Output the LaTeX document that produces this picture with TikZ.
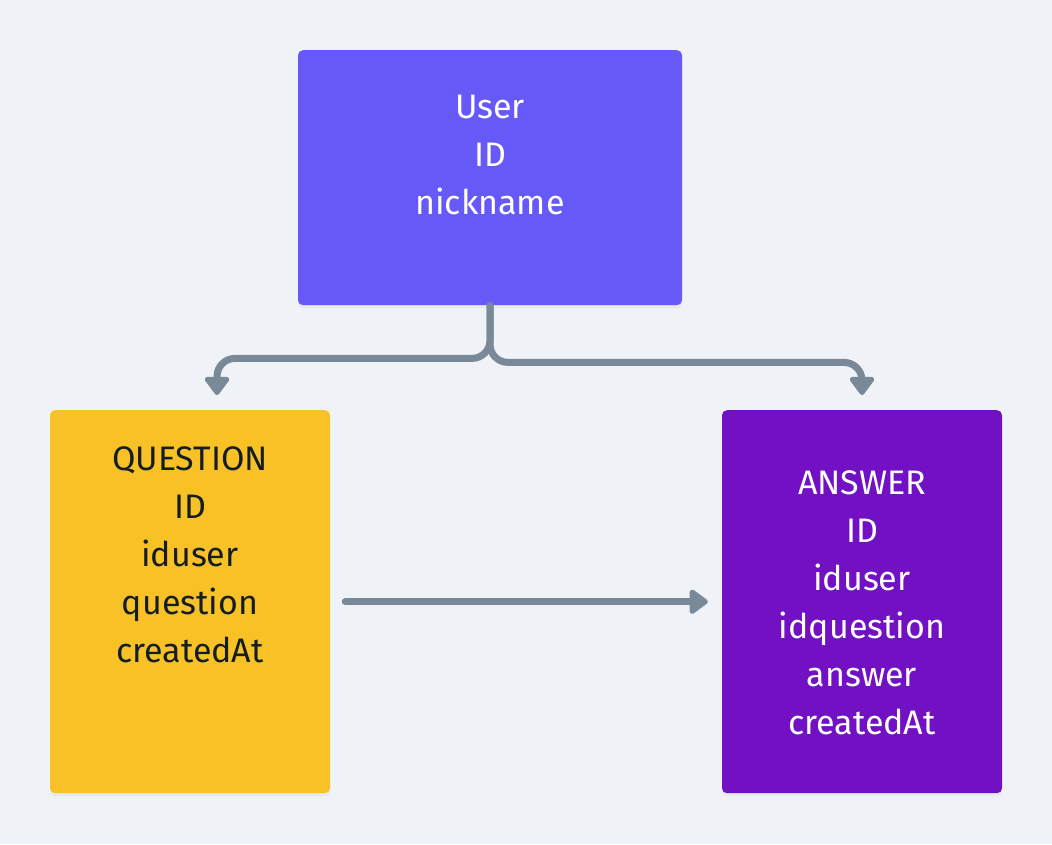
\documentclass[tikz,border=0pt]{standalone}
\usepackage{fontspec}
\setmainfont{Fira Sans}
\usetikzlibrary{arrows.meta,shadows}

\definecolor{colBack}{HTML}{EFF3F7}
\definecolor{colUser}{HTML}{6659F7}
\definecolor{colQuestion}{HTML}{F8C226}
\definecolor{colAnswer}{HTML}{7210C4}
\definecolor{colLine}{HTML}{7A8998}
\definecolor{colInk}{HTML}{141C24}

\begin{document}
\begin{tikzpicture}[x=1pt,y=1pt]
		\fill[colBack] (0,0) rectangle (1052,-844);
		\begin{scope}
            [
                styleTable/.style={
					rounded corners=5pt, inner xsep=0pt, inner ysep=0pt,
					align=center, anchor=north,
					font=\fontsize{34}{48}\selectfont,
					drop shadow={opacity=0.08, shadow xshift=0pt, shadow yshift=-3pt}
					},
				styleArrow/.style={
					draw=colLine, line width=7pt, line cap=round, rounded corners=18pt,
					-{Triangle[length=20pt,width=28pt,round]}
					},
            ]
			\node(user)[styleTable, fill=colUser, text=white,
				minimum width=384pt, text height=164pt, text depth=91pt]
				at (490,-50) {User\\ID\\nickname};
			\node(question)[styleTable, fill=colQuestion, text=colInk,
				minimum width=280pt, text height=252pt, text depth=131pt]
				at (190,-410) {QUESTION\\ID\\iduser\\question\\createdAt};
			\node(answer)[styleTable, fill=colAnswer, text=white,
				minimum width=280pt, text height=324pt, text depth=59pt]
				at (862,-410) {ANSWER\\ID\\iduser\\idquestion\\answer\\createdAt};

			\draw[styleArrow] (user.south) -- ++(0,-53)
				-| ([xshift=27pt,yshift=15pt]question.north);
			\draw[styleArrow] (user.south) -- ++(0,-57)
				-| ([yshift=15pt]answer.north);
			\draw[styleArrow, shorten <=15pt, shorten >=14pt] (question.east) -- (answer.west);
		\end{scope}
    \end{tikzpicture}
\end{document}
